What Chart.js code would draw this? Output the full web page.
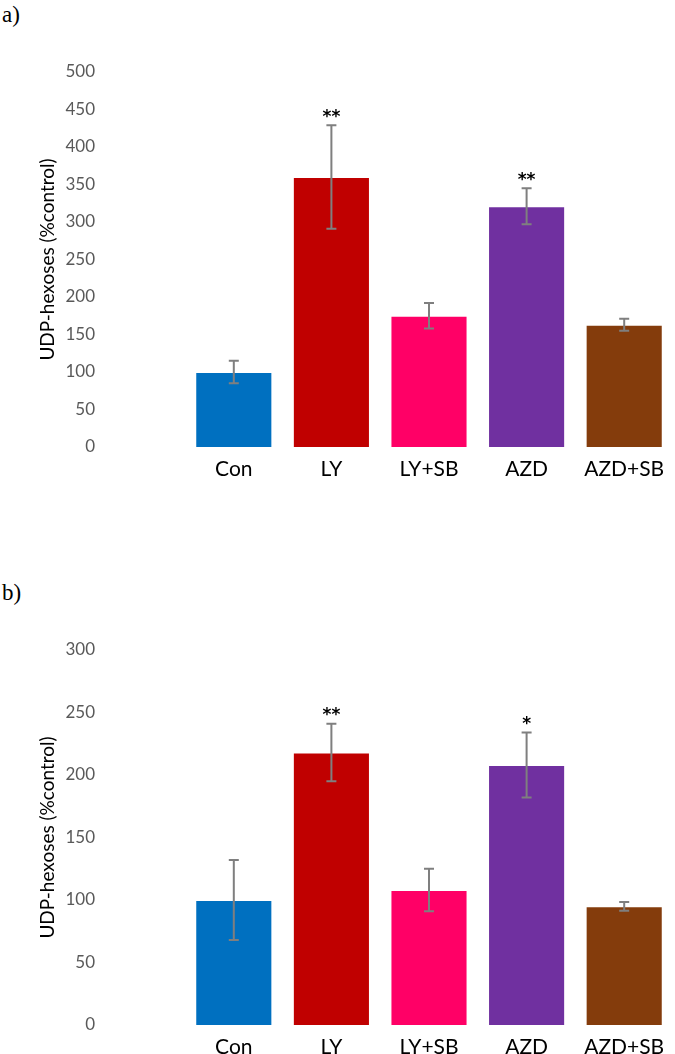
<!DOCTYPE html>
<html>
<head>
<meta charset="utf-8">
<script src="https://cdn.jsdelivr.net/npm/chart.js@4"></script>
<style>
  html, body { margin: 0; padding: 0; background: #fff; }
  body { width: 675px; height: 1054px; position: relative; overflow: hidden; }
  canvas { position: absolute; left: 0; display: block; }
  .tag { position: absolute; left: 2px; font-family: "Liberation Serif", serif; font-size: 23px; color: #000; }
</style>
</head>
<body>
<div class="tag" style="top:2px;">a)</div>
<canvas id="chartA" width="675" height="450" style="top:40px;"></canvas>
<div class="tag" style="top:580px;">b)</div>
<canvas id="chartB" width="675" height="434" style="top:620px;"></canvas>

<script>
// ── data ───────────────────────────────────────────
const categories = ['Con', 'LY', 'LY+SB', 'AZD', 'AZD+SB'];
const barColors = ['#0070C0', '#C00000', '#FF0066', '#7030A0', '#843C0C'];

const valuesA = [100, 360, 175, 321, 163];
const errorsA = [15, 69, 17, 24, 8];
const starsA = ['', '**', '', '**', ''];
const ticksA = [0, 50, 100, 150, 200, 250, 300, 350, 400, 450, 500];

const valuesB = [100, 218, 108, 208, 95];
const errorsB = [32, 23, 17, 26, 3.5];
const starsB = ['', '**', '', '*', ''];
const ticksB = [0, 50, 100, 150, 200, 250, 300];

const yTitle = 'UDP-hexoses (%control)';

Chart.defaults.font.family = 'Lato, "Open Sans", sans-serif';

/* ── error bars + significance stars ───────────── */
const errorBarPlugin = {
  id: 'errorBars',
  afterDatasetsDraw(chart, args, opts) {
    const ctx = chart.ctx;
    const y = chart.scales.y;
    const meta = chart.getDatasetMeta(0);
    const vals = chart.data.datasets[0].data;
    ctx.save();
    meta.data.forEach((bar, i) => {
      const top = y.getPixelForValue(vals[i] + opts.errors[i]);
      const bot = y.getPixelForValue(vals[i] - opts.errors[i]);
      ctx.strokeStyle = '#7f7f7f';
      ctx.lineWidth = 2;
      ctx.beginPath();
      ctx.moveTo(bar.x, top); ctx.lineTo(bar.x, bot);
      ctx.moveTo(bar.x - 5, top); ctx.lineTo(bar.x + 5, top);
      ctx.moveTo(bar.x - 5, bot); ctx.lineTo(bar.x + 5, bot);
      ctx.stroke();
      if (opts.stars[i]) {
        ctx.fillStyle = '#000';
        ctx.font = 'bold 17px "DejaVu Sans", sans-serif';
        ctx.textAlign = 'center';
        ctx.textBaseline = 'middle';
        ctx.fillText(opts.stars[i], bar.x, top - 8);
      }
    });
    ctx.restore();
  },
};

function buildPanel(canvasId, values, errors, stars, tickVals, topPad, xHeight) {
  const ctx = document.getElementById(canvasId);
  new Chart(ctx, {
    type: 'bar',
    data: {
      labels: categories,
      datasets: [{
        data: values,
        backgroundColor: barColors,
        borderColor: 'rgba(255,255,255,0.35)',
        borderWidth: 1,
        barPercentage: 0.79,
        categoryPercentage: 1,
      }],
    },
    options: {
      responsive: false,
      animation: false,
      layout: { padding: { top: topPad, right: 2, left: 0, bottom: 0 } },
      plugins: {
        legend: { display: false },
        tooltip: { enabled: false },
        errorBars: { errors, stars },
      },
      scales: {
        x: {
          grid: { display: false, drawTicks: false },
          border: { display: false },
          ticks: { color: '#000', font: { size: 21 }, padding: 10 },
          afterFit: s => { s.height = xHeight; s.paddingLeft = 0; s.paddingRight = 0; },
        },
        y: {
          min: tickVals[0],
          max: tickVals[tickVals.length - 1],
          afterBuildTicks: s => { s.ticks = tickVals.map(v => ({ value: v })); },
          grid: { display: false, drawTicks: false },
          border: { display: false },
          ticks: { color: '#595959', font: { size: 17 }, padding: 90 },
          title: {
            display: true,
            text: yTitle,
            color: '#000',
            font: { size: 19 },
            padding: { top: 36, bottom: 0 },
          },
          // fixed width; drop the tick padding that Chart.js also adds above/below
          afterFit: s => { s.width = 185; s.paddingTop = 0; s.paddingBottom = 0; },
        },
      },
    },
    plugins: [errorBarPlugin],
  });
}

buildPanel('chartA', valuesA, errorsA, starsA, ticksA, 32, 43);
buildPanel('chartB', valuesB, errorsB, starsB, ticksB, 30, 29);
</script>
</body>
</html>
